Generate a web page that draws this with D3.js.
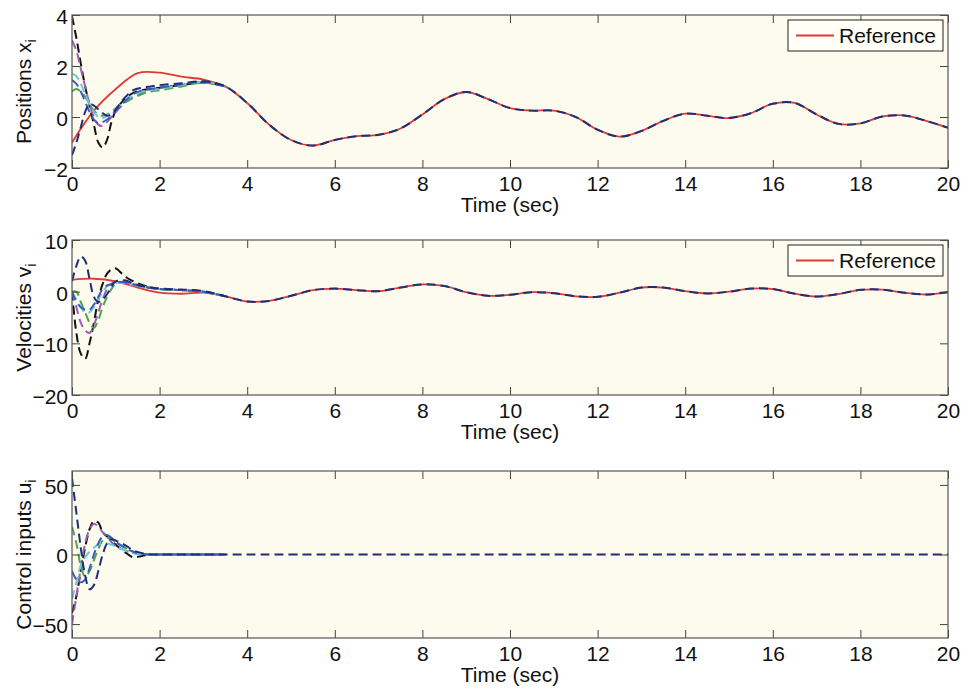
<!DOCTYPE html>
<html>
<head>
<meta charset="utf-8">
<script src="https://cdnjs.cloudflare.com/ajax/libs/d3/7.8.5/d3.min.js"></script>
<style>
body { margin: 0; background: #fff; }
text { font-family: "Liberation Sans", Arial, sans-serif; }
</style>
</head>
<body>
<div id="chart"></div>
<script>
// reference signal, sampled every 0.5 s
var refTime = d3.range(0, 20.001, 0.5);
var refPos = [-1.0, 0.25, 1.1, 1.72, 1.74, 1.58, 1.47, 1.2, 0.55, -0.3, -0.9, -1.12, -0.9, -0.75, -0.7, -0.45,
              0.1, 0.7, 0.98, 0.7, 0.35, 0.25, 0.25, 0.0, -0.5, -0.77, -0.55, -0.15, 0.13, 0.05, -0.04,
              0.15, 0.52, 0.55, 0.1, -0.27, -0.25, 0.02, 0.06, -0.15, -0.42];
var refVel = [2.3, 2.5, 2.0, 0.8, -0.2, -0.4, -0.2, -0.9, -1.9, -1.8, -0.8, 0.3, 0.6, 0.3, 0.1, 0.8,
              1.4, 1.1, -0.1, -0.8, -0.6, -0.1, -0.3, -0.9, -1.0, -0.2, 0.8, 0.8, 0.1, -0.35, 0.0,
              0.6, 0.5, -0.4, -0.95, -0.45, 0.35, 0.4, -0.2, -0.55, -0.1];

// agents during the transient (after that they sit on the reference)
var agentTime = [0, 0.1, 0.2, 0.3, 0.4, 0.5, 0.6, 0.7, 0.8, 0.9, 1.0, 1.2, 1.4, 1.6, 1.8, 2.0, 2.5, 3.0, 3.5];
var agentNames = ["black", "purple", "green", "cyan", "blue", "navy"];
var agentColors = ["#111111", "#9a5cb4", "#4fa34a", "#6cc8dc", "#3a5cc0", "#1c2f78"];

var agentPos = [
    [3.95, 3.1, 2.1, 1.2, 0.45, -0.3, -1.0, -1.2, -0.9, -0.2, 0.25, 0.7, 0.95, 1.05, 1.1, 1.15, 1.25, 1.35, 1.2],
    [3.0, 2.6, 1.9, 1.2, 0.5, 0.0, -0.3, -0.35, -0.2, 0.0, 0.2, 0.55, 0.8, 0.95, 1.05, 1.1, 1.25, 1.37, 1.2],
    [1.0, 1.1, 1.0, 0.8, 0.5, 0.25, 0.1, 0.05, 0.1, 0.2, 0.35, 0.55, 0.75, 0.9, 1.0, 1.05, 1.2, 1.35, 1.2],
    [1.7, 1.6, 1.3, 0.9, 0.5, 0.2, 0.0, -0.05, 0.05, 0.2, 0.35, 0.6, 0.85, 1.0, 1.05, 1.1, 1.25, 1.38, 1.2],
    [1.45, 1.3, 1.0, 0.6, 0.2, -0.1, -0.25, -0.2, -0.1, 0.05, 0.25, 0.6, 0.9, 1.05, 1.1, 1.15, 1.28, 1.38, 1.2],
    [-1.5, -1.0, -0.4, 0.2, 0.5, 0.45, 0.3, 0.15, 0.05, 0.1, 0.3, 0.75, 1.05, 1.15, 1.2, 1.25, 1.32, 1.4, 1.2]
];
var agentVel = [
    [0, -8, -12, -13, -10, -6, -1.5, 1.5, 3.5, 4.3, 4.5, 3.0, 2.0, 1.3, 0.8, 0.5, 0.3, 0.0, -0.9],
    [0, -3, -6, -7.5, -8, -6.5, -4, -1.5, 0.5, 1.5, 2, 1.9, 1.4, 1.0, 0.7, 0.5, 0.3, 0.0, -0.9],
    [0, 0, -2, -4, -6, -7, -5.5, -3, -1, 0.5, 1.5, 1.8, 1.5, 1.1, 0.8, 0.5, 0.3, 0.0, -0.9],
    [0, -1.5, -3, -4, -4, -3, -1.5, 0, 1, 1.5, 1.7, 1.6, 1.3, 1.0, 0.7, 0.5, 0.3, 0.0, -0.9],
    [0, -2, -3, -3.5, -3.5, -2.5, -1, 0.5, 1.2, 1.5, 1.8, 1.8, 1.4, 1.0, 0.7, 0.5, 0.3, 0.0, -0.9],
    [2, 5, 6.8, 6, 2.5, -1, -2, -1.5, -0.5, 1, 2, 2.2, 1.6, 1.1, 0.8, 0.6, 0.4, 0.1, -0.9]
];
var agentCtrl = [
    [-42, -30, -12, 5, 18, 24, 23, 16, 13, 10, 7, 2, -2, -1, 0, 0, 0, 0, 0],
    [-50, -30, -10, 8, 18, 22, 20, 16, 13, 9, 6, 3, 1, 0, 0, 0, 0, 0, 0],
    [20, 8, -8, -16, -12, -4, 4, 10, 12, 11, 9, 5, 2, 0.5, 0, 0, 0, 0, 0],
    [-32, -20, -8, -2, 2, 5, 7, 8, 8, 7, 6, 3, 1, 0, 0, 0, 0, 0, 0],
    [-12, -18, -20, -18, -10, 0, 8, 13, 14, 12, 9, 5, 2, 0.5, 0, 0, 0, 0, 0],
    [55, 30, 5, -15, -25, -22, -12, 0, 8, 11, 10, 7, 3, 1, 0, 0, 0, 0, 0]
];
// steady control after convergence
var ctrlTailTime = [20];
var ctrlTail = [0];

var xTicks = [0, 2, 4, 6, 8, 10, 12, 14, 16, 18, 20];

var panels = [
    {top: 15, bottom: 168, domain: [-2, 4], ticks: [-2, 0, 2, 4], label: "Positions x", sub: "i",
     ref: refPos, agents: agentPos, legend: true},
    {top: 240, bottom: 395, domain: [-20, 10], ticks: [-20, -10, 0, 10], label: "Velocities v", sub: "i",
     ref: refVel, agents: agentVel, legend: true},
    {top: 471, bottom: 638, domain: [-60, 60], ticks: [-50, 0, 50], label: "Control inputs u", sub: "i",
     ref: null, agents: agentCtrl, legend: false}
];

var W = 966, H = 689;
var left = 72, right = 948;

var svg = d3.select("#chart").append("svg")
    .attr("width", W)
    .attr("height", H);

var x = d3.scaleLinear().domain([0, 20]).range([left, right]);

panels.forEach(function (p, pi) {
    var y = d3.scaleLinear().domain(p.domain).range([p.bottom, p.top]);
    var g = svg.append("g");
    var clipId = "clip" + pi;

    svg.append("clipPath").attr("id", clipId)
        .append("rect")
        .attr("x", left).attr("y", p.top)
        .attr("width", right - left).attr("height", p.bottom - p.top);

    g.append("rect")
        .attr("x", left).attr("y", p.top)
        .attr("width", right - left).attr("height", p.bottom - p.top)
        .attr("fill", "#fcfbee");

    var line = d3.line()
        .x(function (d) { return x(d[0]); })
        .y(function (d) { return y(d[1]); })
        .curve(d3.curveCatmullRom.alpha(0.5));

    var lines = g.append("g").attr("clip-path", "url(#" + clipId + ")");

    if (p.ref) {
        var refPts = refTime.map(function (t, i) { return [t, p.ref[i]]; });
        lines.append("path")
            .attr("d", line(refPts))
            .attr("fill", "none")
            .attr("stroke", "#e03a36")
            .attr("stroke-width", 1.8);
    }

    p.agents.forEach(function (vals, ai) {
        var pts = agentTime.map(function (t, i) { return [t, vals[i]]; });
        // last agent drawn on top carries the converged tail
        if (ai == p.agents.length - 1) {
            if (p.ref) {
                refTime.forEach(function (t, i) {
                    if (t > 3.5) pts.push([t, p.ref[i]]);
                });
            } else {
                ctrlTailTime.forEach(function (t, i) { pts.push([t, ctrlTail[i]]); });
            }
        }
        lines.append("path")
            .attr("d", line(pts))
            .attr("fill", "none")
            .attr("stroke", agentColors[ai])
            .attr("stroke-width", 2)
            .attr("stroke-dasharray", "9,5");
    });

    // axes, MATLAB style ticks pointing inward
    var axB = g.append("g")
        .attr("transform", "translate(0," + p.bottom + ")")
        .call(d3.axisBottom(x).tickValues(xTicks).tickSize(-8).tickPadding(8).tickFormat(d3.format("d")));
    var axT = g.append("g")
        .attr("transform", "translate(0," + p.top + ")")
        .call(d3.axisTop(x).tickValues(xTicks).tickSize(-8).tickFormat(""));
    var axL = g.append("g")
        .attr("transform", "translate(" + left + ",0)")
        .call(d3.axisLeft(y).tickValues(p.ticks).tickSize(-8).tickPadding(4).tickFormat(d3.format("d")));
    var axR = g.append("g")
        .attr("transform", "translate(" + right + ",0)")
        .call(d3.axisRight(y).tickValues(p.ticks).tickSize(-8).tickFormat(""));

    [axB, axT, axL, axR].forEach(function (a) {
        a.select(".domain").remove();
        a.selectAll("line").attr("stroke", "#444");
        a.selectAll("text")
            .attr("fill", "#111")
            .style("font-size", "21px")
            .style("font-family", "'Liberation Sans', Arial, sans-serif");
    });
    axL.selectAll("text").attr("dy", "0.4em");

    g.append("rect")
        .attr("x", left).attr("y", p.top)
        .attr("width", right - left).attr("height", p.bottom - p.top)
        .attr("fill", "none")
        .attr("stroke", "#555")
        .attr("stroke-width", 1.2);

    g.append("text")
        .attr("x", (left + right) / 2)
        .attr("y", p.bottom + 44)
        .attr("text-anchor", "middle")
        .style("font-size", "21px")
        .attr("fill", "#111")
        .text("Time (sec)");

    var yl = g.append("text")
        .attr("transform", "translate(31," + (p.top + p.bottom) / 2 + ") rotate(-90)")
        .attr("text-anchor", "middle")
        .style("font-size", "21px")
        .attr("fill", "#111");
    yl.append("tspan").text(p.label);
    yl.append("tspan").attr("dy", "0.3em").style("font-size", "15px").text(p.sub);

    if (p.legend) {
        var lx = 788, ly = p.top + 5;
        var lg = g.append("g");
        lg.append("rect")
            .attr("x", lx).attr("y", ly)
            .attr("width", 155).attr("height", 31)
            .attr("fill", "#fffff8")
            .attr("stroke", "#222")
            .attr("stroke-width", 1);
        lg.append("line")
            .attr("x1", lx + 8).attr("x2", lx + 46)
            .attr("y1", ly + 15.5).attr("y2", ly + 15.5)
            .attr("stroke", "#e03a36")
            .attr("stroke-width", 1.8);
        lg.append("text")
            .attr("x", lx + 51)
            .attr("y", ly + 23)
            .style("font-size", "21px")
            .attr("fill", "#111")
            .text("Reference");
    }
});
</script>
</body>
</html>
